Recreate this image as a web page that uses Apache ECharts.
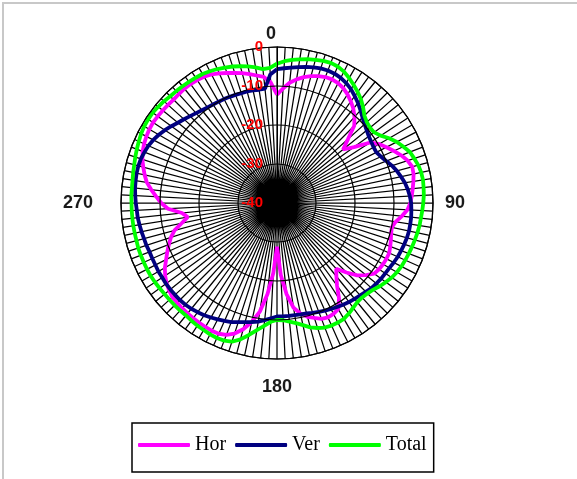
<!DOCTYPE html>
<html><head><meta charset="utf-8">
<script src="https://cdn.jsdelivr.net/npm/echarts@6/dist/echarts.min.js"></script>
<style>
html,body{margin:0;padding:0;background:#fff;}
#frame{position:absolute;left:2px;top:2px;width:575px;height:477px;border-top:2px solid #c8c8c8;border-left:2px solid #c8c8c8;box-sizing:border-box;}
#chart{position:absolute;left:0;top:0;width:577px;height:479px;}
</style></head><body>
<div id="frame"></div>
<div id="chart"></div>
<script>
// Angles (degrees, clockwise from top)
const angles = [0,3,6,9,12,15,18,21,24,27,30,33,36,39,42,45,48,51,54,57,
  60,63,66,69,72,75,78,81,84,87,90,93,96,99,102,105,108,111,114,117,
  120,123,126,129,132,135,138,141,144,147,150,153,156,159,162,165,168,171,174,177,
  180,183,186,189,192,195,198,201,204,207,210,213,216,219,222,225,228,231,234,237,
  240,243,246,249,252,255,258,261,264,267,270,273,276,279,282,285,288,291,294,297,
  300,303,306,309,312,315,318,321,324,327,330,333,336,339,342,345,348,351,354,357];

const hor = [-12.2,-10.6,-9.0,-7.9,-7.0,-6.3,-5.8,-5.4,-5.3,-5.5,-6.0,-6.8,-7.8,-8.9,-10.3,-12.0,-15.5,-18.2,-15.6,-11.5,
  -9.8,-8.5,-7.2,-5.9,-4.8,-4.1,-4.2,-4.6,-5.0,-5.4,-5.8,-6.5,-7.8,-9.2,-9.9,-9.7,-9.3,-8.9,-8.5,-8.5,
  -8.6,-8.8,-9.2,-10.6,-12.3,-14.8,-17.3,-15.8,-13.8,-10.8,-8.6,-8.1,-7.9,-8.2,-9.0,-9.8,-11.0,-12.8,-16.5,-21.5,
  -28.8,-22.0,-16.5,-11.8,-8.8,-6.5,-4.8,-3.8,-3.3,-3.2,-3.3,-3.4,-3.5,-3.6,-3.7,-3.8,-3.9,-4.4,-5.0,-5.8,
  -6.8,-8.1,-9.2,-10.3,-11.4,-12.8,-15.0,-16.8,-15.5,-12.0,-10.3,-9.0,-7.6,-6.2,-5.3,-4.5,-3.7,-3.1,-2.7,-2.4,
  -2.2,-2.1,-2.2,-2.3,-2.4,-2.5,-2.4,-2.3,-2.3,-2.4,-2.6,-3.0,-3.6,-4.3,-4.9,-5.5,-6.2,-6.9,-7.5,-9.0];

const ver = [-5.7,-5.4,-5.1,-4.7,-4.3,-4.0,-3.7,-3.6,-3.7,-4.0,-4.5,-5.2,-6.1,-7.0,-8.0,-9.0,-9.8,-10.4,-10.9,-11.2,
  -11.4,-11.4,-10.8,-10.0,-9.0,-8.2,-7.5,-6.8,-6.3,-5.9,-5.6,-5.5,-5.4,-5.4,-5.4,-5.5,-5.7,-5.9,-6.1,-6.4,
  -6.7,-6.9,-7.0,-7.2,-7.4,-7.8,-8.1,-8.4,-8.6,-8.9,-9.2,-9.5,-9.8,-10.1,-10.4,-10.7,-10.8,-10.9,-10.9,-10.9,
  -10.9,-10.4,-9.8,-9.2,-8.8,-8.4,-7.9,-7.3,-6.9,-6.5,-6.1,-5.7,-5.4,-5.1,-4.9,-4.8,-4.8,-4.8,-4.8,-4.9,
  -4.9,-5.0,-5.0,-5.0,-4.8,-4.7,-4.5,-4.3,-4.1,-4.0,-3.8,-3.6,-3.4,-3.3,-3.2,-3.2,-3.3,-3.6,-3.9,-4.4,
  -5.0,-5.7,-6.5,-7.3,-7.9,-8.5,-9.0,-9.4,-9.7,-9.9,-10.0,-10.1,-10.2,-10.3,-10.4,-10.4,-10.5,-10.6,-10.5,-7.0];

const total = [-4.3,-3.6,-3.1,-2.7,-2.3,-2.0,-1.7,-1.5,-1.7,-2.2,-3.0,-3.9,-4.8,-5.8,-7.0,-8.3,-9.0,-9.3,-9.2,-8.3,
  -6.8,-5.5,-4.5,-3.5,-3.0,-2.5,-2.2,-2.1,-2.2,-2.3,-2.5,-2.7,-2.9,-3.0,-3.2,-3.4,-3.6,-3.8,-4.0,-4.2,
  -4.5,-4.9,-5.5,-6.1,-6.8,-7.2,-7.4,-7.3,-6.8,-6.2,-5.7,-5.6,-5.6,-5.8,-6.3,-7.0,-8.0,-8.8,-9.4,-9.9,
  -10.0,-9.5,-8.3,-7.0,-5.4,-3.8,-2.6,-2.2,-2.1,-2.2,-2.4,-2.5,-2.7,-2.9,-2.9,-2.9,-2.9,-2.9,-2.8,-2.7,
  -2.6,-2.6,-2.6,-2.6,-2.6,-2.7,-2.7,-2.7,-2.7,-2.7,-2.7,-2.6,-2.6,-2.5,-2.3,-2.1,-1.8,-1.5,-1.2,-0.9,
  -0.7,-0.6,-0.6,-0.8,-1.0,-1.3,-1.4,-1.5,-1.6,-1.7,-1.8,-2.1,-2.4,-2.8,-3.2,-3.7,-4.2,-4.8,-5.5,-5.3];

const seriesNames = ['Hor', 'Ver', 'Total'];
const seriesColors = ['#ff00ff', '#000080', '#00ff00'];
const cardinalLabels = ['0', '90', '180', '270'];

function closed(vals) {
  const d = vals.map((v, i) => [v, angles[i]]);
  d.push([vals[0], 360]);
  return d;
}

const chart = echarts.init(document.getElementById('chart'), null, {renderer: 'canvas'});
const lblBase = {fontFamily: 'Liberation Sans, Arial, sans-serif', fontSize: 18, fontWeight: 'bold', color: '#1a1a1a'};
chart.setOption({
  animation: false,
  backgroundColor: 'transparent',
  polar: {center: [277, 203], radius: 156},
  angleAxis: {
    type: 'value', min: 0, max: 360, interval: 3, startAngle: 90, clockwise: true,
    axisLine: {show: true, lineStyle: {color: '#000', width: 1.2}},
    axisTick: {show: false},
    splitLine: {show: true, lineStyle: {color: '#000', width: 1.25}},
    axisLabel: {
      margin: 4,
      formatter: function (v) {
        if (v === 0) return '{n|' + cardinalLabels[0] + '}';
        if (v === 90) return '{e|' + cardinalLabels[1] + '}';
        if (v === 180) return '{s|' + cardinalLabels[2] + '}';
        if (v === 270) return '{w|' + cardinalLabels[3] + '}';
        return '';
      },
      rich: {
        n: Object.assign({padding: [0, 12, 0, 0]}, lblBase),
        e: Object.assign({padding: [0, 0, 0, 8]}, lblBase),
        s: Object.assign({padding: [15, 0, 0, 0]}, lblBase),
        w: Object.assign({padding: [0, 24, 0, 0]}, lblBase)
      }
    }
  },
  radiusAxis: {
    type: 'value', min: -40, max: 0, interval: 10, z: 10,
    axisLine: {show: true, lineStyle: {color: '#000'}},
    axisTick: {show: false},
    axisLabel: {color: '#ff0000', fontSize: 15, fontWeight: 'bold', fontFamily: 'Liberation Sans, Arial, sans-serif', margin: 14},
    splitLine: {show: true, lineStyle: {color: '#000', width: 1.2}}
  },
  legend: {
    data: seriesNames, left: 132, top: 423, orient: 'horizontal',
    itemWidth: 52, itemHeight: 4, itemGap: 9, icon: 'roundRect',
    padding: [12, 7, 17, 6], borderColor: '#000', borderWidth: 1.5,
    textStyle: {fontFamily: 'Liberation Serif, Times New Roman, serif', fontSize: 20, color: '#000'}
  },
  series: [hor, ver, total].map((vals, k) => ({
    name: seriesNames[k], type: 'line', coordinateSystem: 'polar',
    data: closed(vals), symbol: 'none', showSymbol: false, smooth: false,
    lineStyle: {color: seriesColors[k], width: 3.8},
    itemStyle: {color: seriesColors[k]}
  }))
});
</script>
</body></html>
